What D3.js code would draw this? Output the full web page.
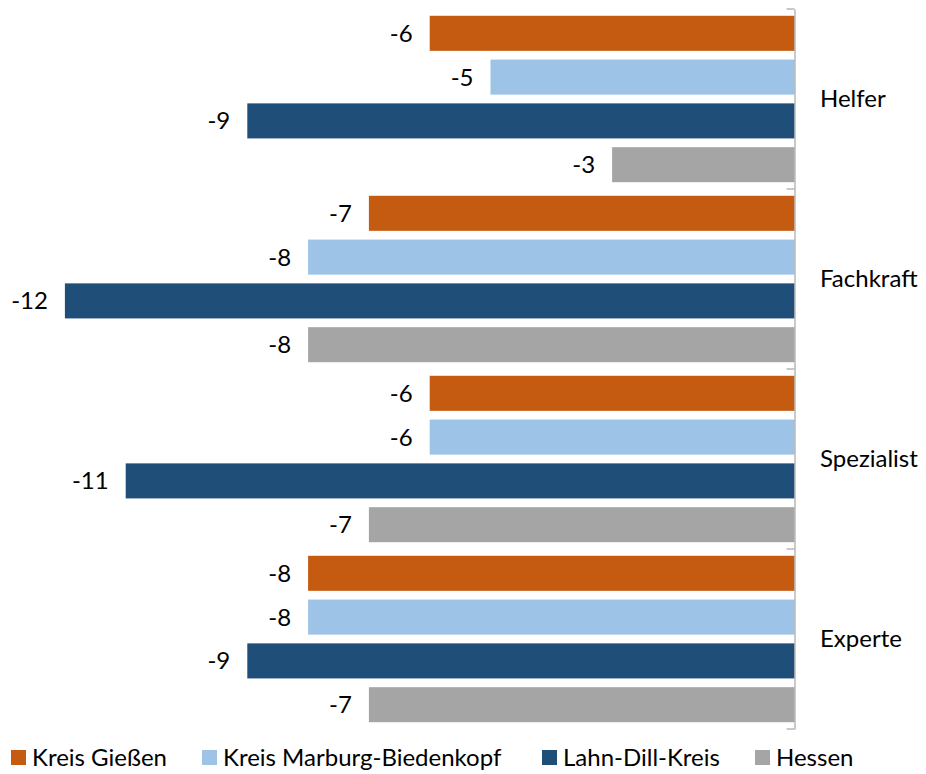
<!DOCTYPE html>
<html>
<head>
<meta charset="utf-8">
<script src="https://cdn.jsdelivr.net/npm/d3@7"></script>
<style>
  body { margin: 0; background: #fff; }
  text { font-family: Lato, "Open Sans", sans-serif; fill: #000; }
</style>
</head>
<body>
<div class="chart"></div>
<script>
// chart data
var categories = ["Helfer", "Fachkraft", "Spezialist", "Experte"];
var seriesNames = ["Kreis Gießen", "Kreis Marburg-Biedenkopf", "Lahn-Dill-Kreis", "Hessen"];
var giessen = [-6, -7, -6, -8];
var marburg = [-5, -8, -6, -8];
var lahnDill = [-9, -12, -11, -9];
var hessen = [-3, -8, -7, -7];
var colors = ["#C55A11", "#9DC3E6", "#1F4E79", "#A5A5A5"];

var svgWidth = 926;
var svgHeight = 774;

var svg = d3.select(".chart")
  .append("svg")
  .attr("width", svgWidth)
  .attr("height", svgHeight);

var seriesValues = [giessen, marburg, lahnDill, hessen];

// build rows: one per category, with value for each series
var rows = categories.map(function(cat, i) {
  return {
    cat: cat,
    values: seriesValues.map(function(vals, j) { return { series: j, value: vals[i] }; })
  };
});

var axisX = 794.5;
var xScale = d3.scaleLinear().domain([-12, 0]).range([axisX - 12 * 60.8, axisX]);

var yScale = d3.scaleBand().domain(categories).range([9, 729]).padding(0);
var inner = d3.scaleBand().domain(d3.range(4)).range([0, yScale.bandwidth()])
  .paddingInner(0.2).paddingOuter(0.155);

var groups = svg.selectAll("g.cat")
  .data(rows)
  .enter()
  .append("g")
  .attr("class", "cat")
  .attr("transform", function(d) { return "translate(0," + yScale(d.cat) + ")"; });

groups.selectAll("rect")
  .data(function(d) { return d.values; })
  .enter()
  .append("rect")
  .attr("x", function(d) { return xScale(d.value); })
  .attr("y", function(d) { return inner(d.series); })
  .attr("width", function(d) { return xScale(0) - xScale(d.value); })
  .attr("height", inner.bandwidth())
  .attr("fill", function(d) { return colors[d.series]; });

groups.selectAll("text.val")
  .data(function(d) { return d.values; })
  .enter()
  .append("text")
  .attr("class", "val")
  .attr("x", function(d) { return xScale(d.value) - 17; })
  .attr("y", function(d) { return inner(d.series) + inner.bandwidth() / 2; })
  .attr("dy", "0.35em")
  .attr("text-anchor", "end")
  .style("font-size", "24px")
  .text(function(d) { return d.value; });

// vertical category axis on the right of the bars
var leftAxis = d3.axisLeft(yScale).tickSize(0).tickFormat("");
var axisG = svg.append("g")
  .attr("transform", "translate(" + axisX + ",0)")
  .call(leftAxis);
axisG.select(".domain").attr("stroke", "#A6A6A6").attr("stroke-width", 1.2);

// tick marks on band boundaries
var boundaries = categories.map(function(c) { return yScale(c); }).concat([yScale.range()[1]]);
axisG.selectAll("line.bound")
  .data(boundaries)
  .enter()
  .append("line")
  .attr("class", "bound")
  .attr("x1", -8)
  .attr("x2", 0)
  .attr("y1", function(d) { return d; })
  .attr("y2", function(d) { return d; })
  .attr("stroke", "#A6A6A6")
  .attr("stroke-width", 1.2);

svg.selectAll("text.cat")
  .data(categories)
  .enter()
  .append("text")
  .attr("class", "cat")
  .attr("x", 820)
  .attr("y", function(d) { return yScale(d) + yScale.bandwidth() / 2; })
  .attr("dy", "0.35em")
  .style("font-size", "24px")
  .text(function(d) { return d; });

// legend
var legendX = [11, 202, 542, 755];
var legend = svg.selectAll("g.legend")
  .data(seriesNames)
  .enter()
  .append("g")
  .attr("class", "legend")
  .attr("transform", function(d, i) { return "translate(" + legendX[i] + ",757.5)"; });

legend.append("rect")
  .attr("x", 0)
  .attr("y", -7.5)
  .attr("width", 15)
  .attr("height", 15)
  .attr("fill", function(d, i) { return colors[i]; });

legend.append("text")
  .attr("x", 21)
  .attr("y", 0)
  .attr("dy", "0.35em")
  .style("font-size", "24px")
  .text(function(d) { return d; });
</script>
</body>
</html>
